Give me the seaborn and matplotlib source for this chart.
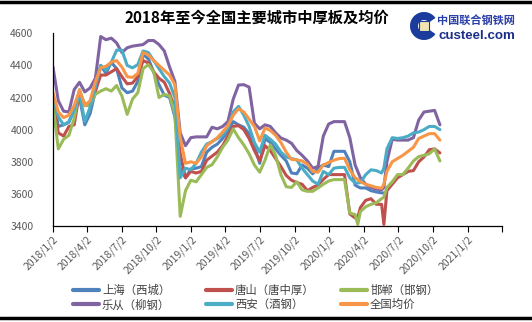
import numpy as np
import pandas as pd
import matplotlib
matplotlib.use("Agg")
import matplotlib.pyplot as plt
from matplotlib.lines import Line2D
from matplotlib.patches import Wedge, Rectangle
import seaborn as sns

dates = ["2018-01-02","2018-01-16","2018-01-30","2018-02-13","2018-02-27","2018-03-13","2018-03-27",
         "2018-04-10","2018-04-24","2018-05-08","2018-05-22","2018-06-05","2018-06-19","2018-07-03",
         "2018-07-17","2018-07-31","2018-08-14","2018-08-28","2018-09-11","2018-09-25","2018-10-09",
         "2018-10-23","2018-11-06","2018-11-20","2018-12-04","2018-12-18","2019-01-01","2019-01-15",
         "2019-01-29","2019-02-12","2019-02-26","2019-03-12","2019-03-26","2019-04-09","2019-04-23",
         "2019-05-07","2019-05-21","2019-06-04","2019-06-18","2019-07-02","2019-07-16","2019-07-30",
         "2019-08-13","2019-08-27","2019-09-10","2019-09-24","2019-10-08","2019-10-22","2019-11-05",
         "2019-11-19","2019-12-03","2019-12-17","2019-12-31","2020-01-14","2020-01-28","2020-02-11",
         "2020-02-25","2020-03-10","2020-03-17","2020-03-24","2020-04-07","2020-04-21","2020-05-05",
         "2020-05-19","2020-05-25","2020-06-02","2020-06-16","2020-06-30","2020-07-14","2020-07-28",
         "2020-08-11","2020-08-25","2020-09-08","2020-09-22","2020-10-06","2020-10-20"]

shanghai = [4210,4020,4030,4045,4130,4200,4030,4100,4240,4400,4350,4420,4380,4260,4230,4240,4300,4470,
            4440,4360,4280,4215,4200,4080,3760,3700,3755,
            3760,3770,3860,3890,3910,3945,3990,4050,4030,4015,3975,3900,3790,3945,3920,3880,3840,3805,
            3730,3725,3780,3760,3725,3760,3780,3770,3865,3865,3865,3800,3655,
            3645,
            3637,3637,3620,3612,3606,
            3606,
            np.nan,np.nan,np.nan,np.nan,np.nan,np.nan,np.nan,np.nan,np.nan,np.nan,np.nan]
tangshan = [4200,3980,3960,4020,4030,4230,4160,4160,4240,4340,4340,4360,4380,4330,4285,4290,4330,4430,
            4415,4360,4320,4295,4225,4130,3850,3700,3740,
            3730,3740,3810,3835,3860,3900,3960,4020,4025,4000,3945,3870,3805,3900,3870,3820,3770,3715,
            3685,3670,3660,3620,3640,3655,3690,3720,3720,3720,3720,3475,3450,
            3455,
            3515,3560,3570,3535,3535,
            3410,
            3620,3660,3700,3720,3740,3745,3800,3830,3875,3880,3855]
handan = [4160,3880,3940,3965,4070,4250,4150,4150,4220,4240,4255,4240,4275,4210,4095,4190,4230,4380,
          4405,4360,4200,4220,4210,4100,3460,3620,3685,
          3675,3720,3765,3782,3830,3890,3935,4005,3950,3905,3850,3780,3735,3810,3905,3840,3720,3645,
          3640,3675,3625,3616,3616,3637,3660,3680,3689,3689,3689,3480,3471,
          3410,
          3490,3520,3535,3545,3570,
          3580,
          3640,3675,3720,3720,3760,3805,3832,3840,3850,3880,3805]
lecong = [4390,4180,4115,4110,4250,4295,4235,4260,4320,4580,4560,4570,4540,4480,4510,4520,4525,4530,
          4555,4555,4530,4490,4390,4300,3980,3900,3950,
          3955,3955,3955,4015,4005,4020,4050,4190,4278,4280,4265,4040,4005,4030,4020,3980,3948,3935,
          3915,3870,3840,3805,3760,3770,3960,4035,4050,4050,4050,3950,3780,
          3740,
          3700,3660,3640,3630,3625,
          3640,
          3800,3940,3935,3935,3935,3950,4060,4110,4115,4120,4030]
xian = [4200,4080,4030,4050,4120,4230,4050,4140,4270,4400,4370,4420,4495,4495,4400,4385,4405,4490,
        4480,4430,4380,4330,4290,4200,3700,3760,3750,
        3790,3860,3910,3925,3945,3965,4010,4110,4145,4090,4020,3920,3860,3965,3940,3910,3860,3830,
        3820,3812,3760,3720,3680,3660,3740,3720,3760,3765,3765,3700,3668,
        3668,
        3670,3720,3750,3745,3730,
        3760,
        3880,3950,3945,3950,3960,3980,3985,4000,4020,4020,4000]
national = [4230,4110,4075,4090,4150,4245,4150,4180,4300,4385,4395,4420,4430,4390,4330,4325,4350,4480,
            4465,4430,4400,4370,4340,4280,3950,3790,3800,
            3790,3830,3900,3925,3950,3985,4025,4090,4130,4110,4065,4020,3930,4010,3995,3965,3920,3860,
            3815,3812,3805,3785,3740,3735,3780,3795,3810,3820,3822,3750,3700,
            3690,
            3675,3660,3650,3640,3635,
            3660,
            3740,3800,3820,3840,3865,3890,3945,3960,3975,3975,3935]

series_names = ["上海（西城）", "唐山（唐中厚）", "邯郸（邯钢）", "乐从（柳钢）", "西安（酒钢）", "全国均价"]
series_values = [shanghai, tangshan, handan, lecong, xian, national]
colors = ["#4F81BD", "#C0504D", "#9BBB59", "#8064A2", "#4BACC6", "#F79646"]

tick_dates = ["2018-01-02","2018-04-02","2018-07-02","2018-10-02","2019-01-02","2019-04-02","2019-07-02",
              "2019-10-02","2020-01-02","2020-04-02","2020-07-02","2020-10-02","2021-01-02"]
tick_labels = ["2018/1/2","2018/4/2","2018/7/2","2018/10/2","2019/1/2","2019/4/2","2019/7/2",
               "2019/10/2","2020/1/2","2020/4/2","2020/7/2","2020/10/2","2021/1/2"]
y_ticks = [3400, 3600, 3800, 4000, 4200, 4400, 4600]
title = "2018年至今全国主要城市中厚板及均价"

frames = []
for name, vals in zip(series_names, series_values):
    frames.append(pd.DataFrame({"date": pd.to_datetime(dates), "price": vals, "city": name}))
df = pd.concat(frames, ignore_index=True)

sns.set_theme(style="white")
plt.rcParams["font.family"] = ["Noto Sans CJK SC", "DejaVu Sans"]

W, H = 532, 322
fig = plt.figure(figsize=(W / 100, H / 100), dpi=100)
ax = fig.add_axes([53 / W, 1 - 226 / H, (502 - 53) / W, (226 - 33.3) / H])

sns.lineplot(data=df, x="date", y="price", hue="city", hue_order=series_names,
             palette=colors, linewidth=2.2, ax=ax, legend=False, errorbar=None)

ax.set_xlim(pd.Timestamp("2018-01-02"), pd.Timestamp("2021-04-02"))
ax.set_ylim(3400, 4600)
ax.set_yticks(y_ticks)
ax.set_yticklabels([str(v) for v in y_ticks], fontsize=7.5, color="#595959")
ax.set_xticks(list(pd.to_datetime(tick_dates)) + [pd.Timestamp("2021-04-02")])
ax.set_xticklabels(tick_labels + [""], rotation=45, ha="right", rotation_mode="anchor",
                   fontsize=7.5, color="#595959")
ax.tick_params(axis="y", length=0, pad=14)
ax.tick_params(axis="x", length=4, width=0.8, color="black", direction="out", pad=2, bottom=True)
ax.set_xlabel("")
ax.set_ylabel("")
for s in ["top", "right"]:
    ax.spines[s].set_visible(False)
for s in ["left", "bottom"]:
    ax.spines[s].set_color("black")
    ax.spines[s].set_linewidth(0.9)
ax.grid(False)

fig.text(257 / W, 1 - 18 / H, title, ha="center", va="center", fontsize=11, fontweight="bold", color="black")

# legend: three columns placed like the original
col_x = [73, 206, 341]
for c in range(3):
    idx = [c, c + 3]
    handles = [Line2D([0], [0], color=colors[i], lw=3) for i in idx]
    labels = [series_names[i] for i in idx]
    fig.legend(handles, labels, loc="center left", bbox_to_anchor=(col_x[c] / W, 1 - 297.5 / H),
               frameon=False, fontsize=8.2, handlelength=2.3, handletextpad=0.25,
               labelspacing=0.3, borderpad=0, borderaxespad=0, labelcolor="#404040")

# logo drawn in a pixel-coordinate overlay
lax = fig.add_axes([0, 0, 1, 1], zorder=10)
lax.set_xlim(0, W)
lax.set_ylim(H, 0)
lax.axis("off")
lax.add_patch(Wedge((424, 26), 14, 35, 325, width=8, facecolor="#1B3C9C", edgecolor="none"))
lax.add_patch(Rectangle((419, 21), 10, 10, facecolor="#F2E6B0", edgecolor="#1B3C9C", lw=0.8))
lax.text(476, 20.5, "中国联合钢铁网", ha="center", va="center", fontsize=8,
         fontweight="bold", color="#2A3FA8")
lax.text(477, 36, "custeel.com", ha="center", va="center", fontsize=9.6,
         fontweight="bold", color="#1B2F8A", family=["Liberation Sans", "DejaVu Sans"])

# border lines
lax.plot([0, W], [1.5, 1.5], color="black", lw=2.5)
lax.plot([0, W], [317.5, 317.5], color="black", lw=2.5)

fig.savefig("out.png", dpi=100)
